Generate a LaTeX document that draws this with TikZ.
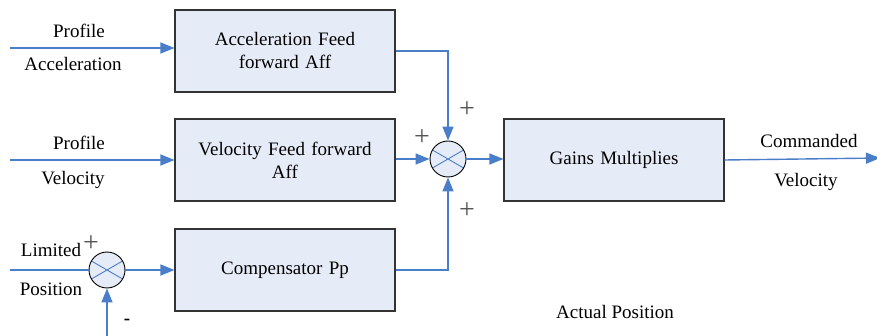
\documentclass[tikz,border=0pt]{standalone}
\usepackage{fontspec}
\setmainfont{Liberation Serif}
\newfontfamily\tnr{Liberation Serif}
\usetikzlibrary{arrows.meta}
\definecolor{lineblue}{HTML}{4A7EC8}
\definecolor{boxfill}{HTML}{E6ECF7}
\definecolor{plusgray}{HTML}{555555}
\begin{document}
\begin{tikzpicture}[x=1pt,y=-1pt,
  blk/.style={draw=black!80, fill=boxfill, line width=1.1pt, minimum width=220pt, minimum height=82pt, text width=205pt, align=center, inner sep=0pt, font=\tnr\fontsize{19}{23}\selectfont},
  sumnode/.style={circle, draw=black, fill=boxfill, line width=0.9pt, minimum size=36pt, inner sep=0pt,
    path picture={\draw[lineblue, line width=0.9pt]
      ([shift={(150:20pt)}]path picture bounding box.center) -- ([shift={(-30:20pt)}]path picture bounding box.center)
      ([shift={(30:20pt)}]path picture bounding box.center) -- ([shift={(210:20pt)}]path picture bounding box.center);}},
  conn/.style={draw=lineblue, line width=1.4pt},
  arr/.style={conn, -{Triangle[length=14pt,width=11pt]}},
  lbl/.style={font=\tnr\fontsize{19}{23}\selectfont, inner sep=0pt},
  pl/.style={font=\tnr\fontsize{28}{30}\selectfont, text=plusgray, inner sep=0pt}
]
\useasboundingbox (0,0) rectangle (877,336);

\node[blk] (acc) at (285,51) {Acceleration Feed\\forward Aff};
\node[blk] (vel) at (285,160) {Velocity Feed forward\\Aff};
\node[blk] (comp) at (285,270) {Compensator Pp};
\node[blk] (gain) at (614,160) {Gains Multiplies};
\node[sumnode] (s1) at (448,159) {};
\node[sumnode] (s2) at (107,270) {};

\coordinate (ia) at (10,48);
\coordinate (iv) at (10,160);
\coordinate (ip) at (10,270);
\coordinate (fb) at (107,336);
\coordinate (out) at (880,158);

\draw[arr] (ia) -- (ia -| acc.west);
\draw[arr] (iv) -- (iv -| vel.west);
\draw[conn] (ip) -- (s2.west);
\draw[arr] (s2.east) -- (comp.west);
\draw[arr] (fb) -- (s2.south);
\draw[arr] (acc.east) -| (s1.north);
\draw[arr] (vel.east |- s1.west) -- (s1.west);
\draw[arr] (comp.east) -| (s1.south);
\draw[arr] (s1.east) -- (gain.west |- s1.east);
\draw[arr] (gain.east) -- (out);

\node[lbl] (t1) at (79,31) {Profile};
\node[lbl] (t2) at (73,64) {Acceleration};
\node[lbl] (t3) at (79,143) {Profile};
\node[lbl] (t4) at (73,180) {Velocity};
\node[lbl] (t5) at (51,250) {Limited};
\node[lbl] (t6) at (51,289) {Position};
\node[lbl] (t7) at (809,141) {Commanded};
\node[lbl] (t8) at (806,182) {Velocity};
\node[lbl] (t9) at (615,312) {Actual Position};

\node[pl] (p1) at (91,244) {+};
\node[pl] (p2) at (467,110) {+};
\node[pl] (p3) at (422,138) {+};
\node[pl] (p4) at (467,211) {+};
\node[font=\tnr\fontsize{19}{23}\selectfont\bfseries, inner sep=0pt] (m1) at (127,322) {-};
\end{tikzpicture}
\end{document}
